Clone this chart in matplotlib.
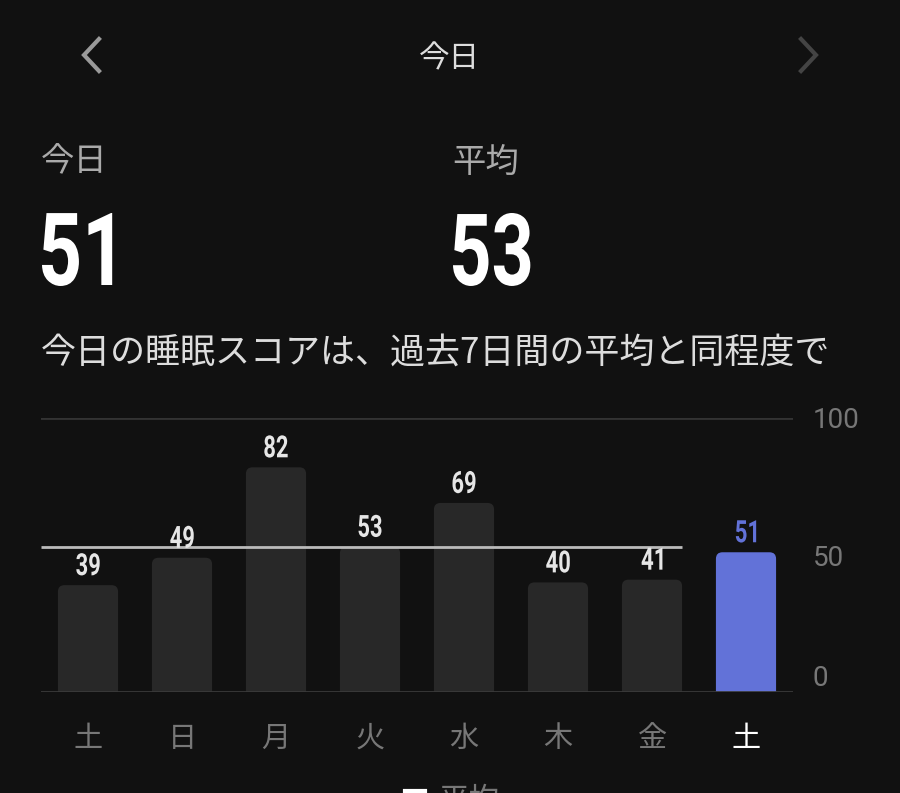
import numpy as np
import matplotlib
matplotlib.use("Agg")
import matplotlib.pyplot as plt
from matplotlib.patches import FancyBboxPatch, PathPatch
from matplotlib.textpath import TextPath
from matplotlib.font_manager import FontProperties
from matplotlib.transforms import Affine2D, IdentityTransform

plt.rcParams['font.family'] = ['Noto Sans CJK JP', 'DejaVu Sans']

# data
days = ["土", "日", "月", "火", "水", "木", "金", "土"]
scores = [39, 49, 82, 53, 69, 40, 41, 51]
average = 53
today = 51
y_ticks = [0, 50, 100]
header = "今日"
summary = "今日の睡眠スコアは、過去7日間の平均と同程度で"

bg = "#111111"
bar_col = "#282828"
hi_col = "#6272d8"

W, H = 900, 793
fig = plt.figure(figsize=(9, 7.93), dpi=100, facecolor=bg)
num_prop = FontProperties(family="Roboto", weight="bold")


def px(x, y):
    return x / W, 1 - y / H


def narrow_text(x, y, s, cap, sx, color, ha="left"):
    # condensed digits: draw the text path squeezed horizontally
    # x, y in display pixels (origin bottom-left), y = baseline
    tp = TextPath((0, 0), s, size=1, prop=num_prop)
    ext = tp.get_extents()
    scale = cap / ext.y1
    w = (ext.x1 - ext.x0) * scale * sx
    x0 = x - w / 2 if ha == "center" else x
    tr = Affine2D().translate(-ext.x0, 0).scale(scale * sx, scale).translate(x0, y)
    patch = PathPatch(tr.transform_path(tp), fc=color, ec="none",
                      transform=IdentityTransform())
    fig.add_artist(patch)


# header
fig.add_artist(plt.Line2D([99 / W, 84 / W, 99 / W], [1 - 39 / H, 1 - 55 / H, 1 - 71 / H],
                          color="#9a9a9a", lw=3, solid_joinstyle="miter"))
fig.add_artist(plt.Line2D([801 / W, 816 / W, 801 / W], [1 - 39 / H, 1 - 55 / H, 1 - 71 / H],
                          color="#444444", lw=3, solid_joinstyle="miter"))
fig.text(*px(449, 59), header, color="#dddddd", fontsize=22, ha="center", va="center")

# big numbers
fig.text(*px(41, 162), "今日", color="#aaaaaa", fontsize=24, ha="left", va="center")
fig.text(*px(452, 162), "平均", color="#aaaaaa", fontsize=24, ha="left", va="center")
narrow_text(42, H - 285, str(today), 72, 0.76, "white")
narrow_text(453, H - 285, str(average), 72, 0.74, "white")
fig.text(*px(41, 353), summary, color="#dddddd", fontsize=25.2, ha="left", va="center")

# chart
ax = fig.add_axes([41 / W, 101 / H, 752 / W, 274 / H], facecolor=bg)
ax.set_xlim(-0.5, len(scores) - 0.5)
ax.set_ylim(0, 100)
for s in ax.spines.values():
    s.set_visible(False)

width = 0.64
asp = (100 / 274) / (len(scores) / 752)
for i, v in enumerate(scores):
    col = hi_col if i == len(scores) - 1 else bar_col
    p = FancyBboxPatch((i - width / 2, -5), width, v + 5,
                       boxstyle="round,pad=0,rounding_size=0.07",
                       mutation_aspect=asp, fc=col, ec="none", zorder=2)
    ax.add_patch(p)
    tcol = hi_col if i == len(scores) - 1 else "#e6e6e6"
    lx, ly = ax.transData.transform((i, v))
    narrow_text(lx, ly + 10, str(v), 22, 0.72, tcol, ha="center")

ax.axhline(100, color="#333333", lw=2, zorder=1)
ax.axhline(0, color="#3a3a3a", lw=2, zorder=3)
ax.hlines(average, -0.5, len(scores) - 2 + width / 2, color="#bbbbbb", lw=2, zorder=3)

ax.set_xticks(range(len(days)))
ax.set_xticklabels(days, fontsize=21)
ax.tick_params(axis="x", length=0, pad=23)
for i, t in enumerate(ax.get_xticklabels()):
    t.set_color("white" if i == len(days) - 1 else "#777777")

ax.yaxis.tick_right()
ax.set_yticks(y_ticks)
ax.set_yticklabels([str(v) for v in y_ticks], fontsize=20, color="#777777",
                   family=["Roboto", "DejaVu Sans"])
ax.tick_params(axis="y", length=0, pad=14)
ax.get_yticklabels()[0].set_va("bottom")
ax.get_yticklabels()[2].set_y(98)

# legend at bottom (cut off in the original)
fig.add_artist(plt.Line2D([405 / W, 425 / W], [1 - 791 / H, 1 - 791 / H],
                          color="white", lw=3))
fig.text(*px(438, 800), "平均", color="#777777", fontsize=22, ha="left", va="center")

fig.savefig("out.png", dpi=100, facecolor=bg)
